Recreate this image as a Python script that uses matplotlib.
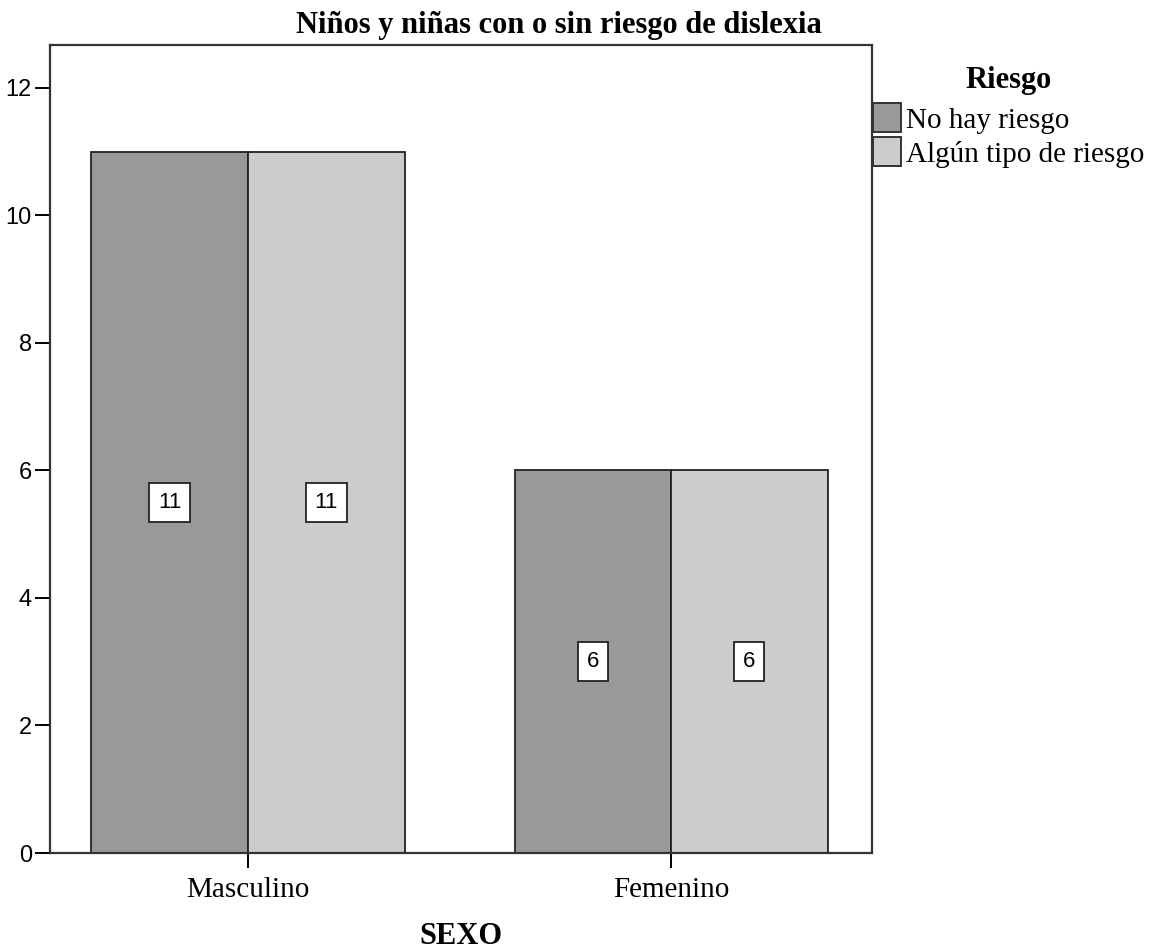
import matplotlib.pyplot as plt
from matplotlib.patches import Patch
import numpy as np

plt.rcParams['font.family'] = ['Liberation Serif', 'DejaVu Serif']

# Data
categories = ['Masculino', 'Femenino']
series_names = ['No hay riesgo', 'Algún tipo de riesgo']
no_riesgo = [11, 6]
algun_riesgo = [11, 6]
colors = ['#999999', '#cccccc']

fig = plt.figure(figsize=(11.54, 9.52), dpi=100)
ax = fig.add_axes([50 / 1154, 1 - 853 / 952, 822 / 1154, 808 / 952])

x = np.arange(len(categories))
w = 0.37
for vals, off, col in [(no_riesgo, -w / 2, colors[0]), (algun_riesgo, w / 2, colors[1])]:
	bars = ax.bar(x + off, vals, width=w, color=col, edgecolor='#222222', linewidth=1.3)
	for b, v in zip(bars, vals):
		ax.text(b.get_x() + b.get_width() / 2, v / 2, str(v), ha='center', va='center',
				fontsize=16, family=['Liberation Sans Narrow', 'Liberation Sans'],
				bbox=dict(boxstyle='square,pad=0.4', facecolor='white', edgecolor='#222222', linewidth=1.3))

ax.set_xlim(-0.468, 1.475)
ax.set_ylim(0, 12.67)
ax.set_xticks(x)
ax.set_xticklabels(categories, fontsize=21)
ax.set_yticks(range(0, 13, 2))
ax.set_yticklabels([str(t) for t in range(0, 13, 2)], fontsize=17,
				   family=['Liberation Sans Narrow', 'Liberation Sans'])
ax.tick_params(axis='y', length=11, width=1.4, direction='out', pad=2)
ax.tick_params(axis='x', length=11, width=1.4, direction='out', pad=6)
for s in ax.spines.values():
	s.set_linewidth(1.6)
	s.set_color('#333333')

fig.text(559 / 1154, 1 - 25 / 952, 'Niños y niñas con o sin riesgo de dislexia',
		 ha='center', va='center', fontsize=22, fontweight='bold')
fig.text(461 / 1154, 1 - 936 / 952, 'SEXO', ha='center', va='center', fontsize=22, fontweight='bold')

handles = [Patch(facecolor=c, edgecolor='#333333', linewidth=1.4) for c in colors]
leg = fig.legend(handles, series_names, title='Riesgo', loc='upper left',
				 bbox_to_anchor=(873 / 1154, 1 - 66 / 952), frameon=False, fontsize=21,
				 handlelength=0.97, handleheight=1.15, handletextpad=0.15, labelspacing=0.12,
				 borderpad=0, borderaxespad=0)
leg.get_title().set_fontweight('bold')
leg.get_title().set_fontsize(22)
leg._legend_box.align = 'center'
leg._legend_box.sep = 6

fig.savefig('out.png', dpi=100, facecolor='white')
